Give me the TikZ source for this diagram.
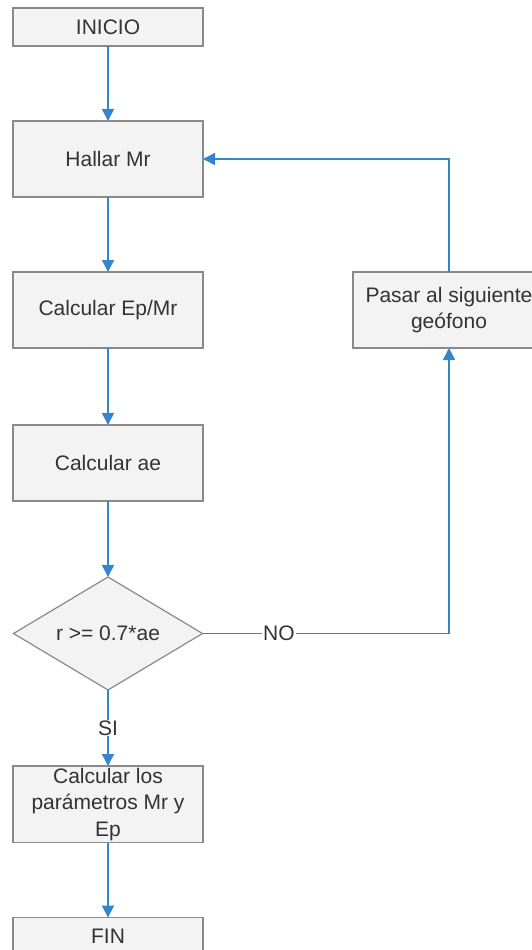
\documentclass[tikz,border=0pt]{standalone}
\usepackage{fontspec}
\setmainfont{Liberation Sans}
\usetikzlibrary{arrows.meta,positioning,shapes.geometric}
\definecolor{boxline}{HTML}{8A8A8A}
\definecolor{boxfill}{HTML}{F3F3F3}
\definecolor{flowblue}{HTML}{3585CC}
\definecolor{txtgray}{HTML}{333333}

\begin{document}
\begin{tikzpicture}
    \tikzstyle{paso} = [draw=boxline,fill=boxfill,line width=1.2pt,minimum width=190pt,minimum height=76pt,align=center,inner sep=2pt,outer sep=0pt,text=txtgray]
\tikzstyle{extremo} = [paso,minimum height=38pt]
\tikzstyle{decision} = [draw=boxline,fill=boxfill,line width=1.2pt,shape=diamond,aspect=1.67,minimum width=189pt,minimum height=113pt,inner sep=0pt,outer sep=0pt,text=txtgray]
\tikzstyle{flecha} = [draw=flowblue,line width=1.5pt,-{Triangle[length=12pt,width=12pt]}]
\tikzstyle{etiqueta} = [fill=white,inner sep=1pt,text=txtgray]

\useasboundingbox (0,0) rectangle (532pt,-950pt);
\fontsize{21}{26.5}\selectfont

\node[extremo] (inicio) at (108pt,-27pt) {INICIO};
\node[paso,below=75pt of inicio] (hallar) {Hallar Mr};
\node[paso,below=75pt of hallar] (epmr) {Calcular Ep/Mr};
\node[paso,below=77pt of epmr] (ae) {Calcular ae};
\node[decision,below=76pt of ae] (cond) {r >= 0.7*ae};
\node[paso,below=76pt of cond] (param) {Calcular los\\par\'ametros Mr y\\Ep};
\node[extremo,below=75pt of param] (fin) {FIN};

\node[paso,right=150pt of epmr,minimum width=192pt] (pasar) {Pasar al siguiente\\ge\'ofono};

\draw[flecha] (inicio) -- (hallar);
\draw[flecha] (hallar) -- (epmr);
\draw[flecha] (epmr) -- (ae);
\draw[flecha] (ae) -- (cond);
\draw[flecha] (cond) -- node[etiqueta]{SI} (param);
\draw[flecha] (param) -- (fin);

\draw[flecha] (cond.east) -- node[etiqueta,pos=0.31]{NO} (cond.east -| pasar.south) -- (pasar.south);
\draw[flecha] (pasar.north) |- (hallar.east);

\end{tikzpicture}
\end{document}
